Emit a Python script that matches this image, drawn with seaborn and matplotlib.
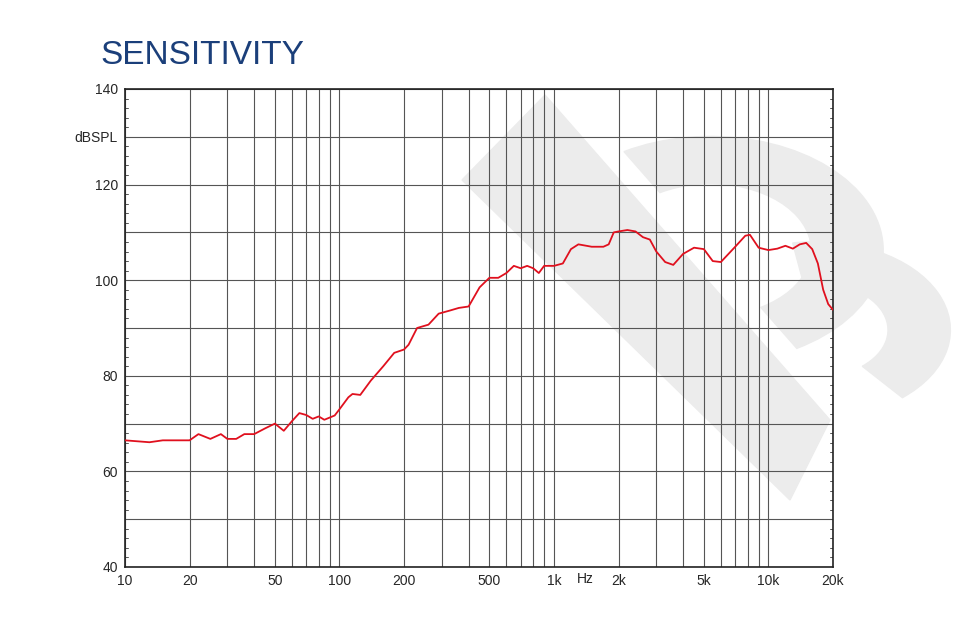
import numpy as np
import matplotlib
matplotlib.use('Agg')
import matplotlib.pyplot as plt
import seaborn as sns
from matplotlib.patches import Polygon, Wedge

freq = [10, 13, 15, 20, 22, 25, 28, 30, 33, 36, 40, 45, 50, 55, 60, 65, 70, 75, 80, 85, 95,
        100, 110, 115, 125, 140, 160, 180, 200, 210, 230, 260, 290, 330, 360, 400, 450, 500,
        550, 600, 650, 700, 750, 800, 850, 900, 1000, 1100, 1200, 1300, 1500, 1700, 1800,
        1900, 2000, 2200, 2400, 2600, 2800, 3000, 3300, 3600, 4000, 4500, 5000, 5500, 6000,
        7000, 7800, 8200, 9000, 10000, 11000, 12000, 13000, 14000, 15000, 16000, 17000,
        18000, 19000, 20000]
spl = [66.5, 66.1, 66.5, 66.5, 67.8, 66.8, 67.8, 66.8, 66.8, 67.8, 67.8, 69, 70, 68.5, 70.5,
       72.2, 71.8, 71, 71.5, 70.8, 71.7, 73, 75.5, 76.2, 76, 79, 82, 84.8, 85.5, 86.5, 90,
       90.7, 93, 93.7, 94.2, 94.5, 98.5, 100.5, 100.5, 101.5, 103, 102.5, 103, 102.5, 101.5,
       103, 103, 103.5, 106.5, 107.5, 107, 107, 107.5, 110, 110.2, 110.5, 110.2, 109, 108.5,
       106, 103.8, 103.2, 105.5, 106.8, 106.5, 104, 103.8, 107, 109.3, 109.5, 106.8, 106.3,
       106.6, 107.2, 106.6, 107.5, 107.8, 106.5, 103.5, 98, 95, 93.8]

xtick_vals = [10, 20, 50, 100, 200, 500, 1000, 2000, 5000, 10000, 20000]
xtick_labels = ['10', '20', '50', '100', '200', '500', '1k', '2k', '5k', '10k', '20k']
ytick_vals = [40, 60, 80, 100, 120, 130, 140]
ytick_labels = ['40', '60', '80', '100', '120', 'dBSPL', '140']

sns.set_style('white')
plt.rcParams['font.family'] = ['Liberation Sans', 'DejaVu Sans']

fig = plt.figure(figsize=(9.6, 6.31), dpi=100)

# watermark (light grey logo behind the chart)
W, H = 960, 631
def fx(p):
    return [(x / W, 1 - y / H) for x, y in p]
grey = '#ececec'
fig.patches.append(Polygon(fx([(462, 180), (545, 95), (830, 420), (790, 500)]),
                           closed=True, transform=fig.transFigure, color=grey, zorder=0))
fig.patches.append(Wedge((0.74, 1 - 250 / H), 0.18, -60, 120, width=0.075,
                         transform=fig.transFigure, color=grey, zorder=0))
fig.patches.append(Wedge((0.85, 1 - 330 / H), 0.14, -50, 100, width=0.065,
                         transform=fig.transFigure, color=grey, zorder=0))

ax = fig.add_axes([125 / 960, 1 - 567 / 631, 708 / 960, 478 / 631])
ax.set_zorder(2)
ax.set_facecolor('none')
sns.lineplot(x=freq, y=spl, ax=ax, color='#e0101e', linewidth=1.3, zorder=3)

ax.set_xscale('log')
ax.set_xlim(10, 20000)
ax.set_ylim(40, 140)
ax.set_xticks(xtick_vals)
ax.set_xticklabels(xtick_labels, fontsize=10)
ax.xaxis.set_minor_locator(matplotlib.ticker.LogLocator(base=10, subs=np.arange(2, 10)))
ax.xaxis.set_minor_formatter(matplotlib.ticker.NullFormatter())
ax.set_yticks(ytick_vals)
ax.set_yticklabels(ytick_labels, fontsize=10)
ax.set_yticks(np.arange(40, 141, 10), minor=True)
ax.grid(True, which='both', color='#555555', linewidth=0.8)
ax.tick_params(axis='both', which='both', length=0, pad=5)
for s in ax.spines.values():
    s.set_color('#222222')
    s.set_linewidth(1.2)
# small inner y ticks every 2 dB
for yv in np.arange(42, 140, 2):
    ax.plot([10, 10.35], [yv, yv], color='#555555', lw=0.7)
    ax.plot([19300, 20000], [yv, yv], color='#555555', lw=0.7)
ax.text(1400, 38.9, 'Hz', ha='center', va='top', fontsize=10)

fig.text(100 / 960, 1 - 55 / 631, 'SENSITIVITY', color='#1b3f7a', fontsize=24, va='center')

fig.savefig('out.png', dpi=100)
